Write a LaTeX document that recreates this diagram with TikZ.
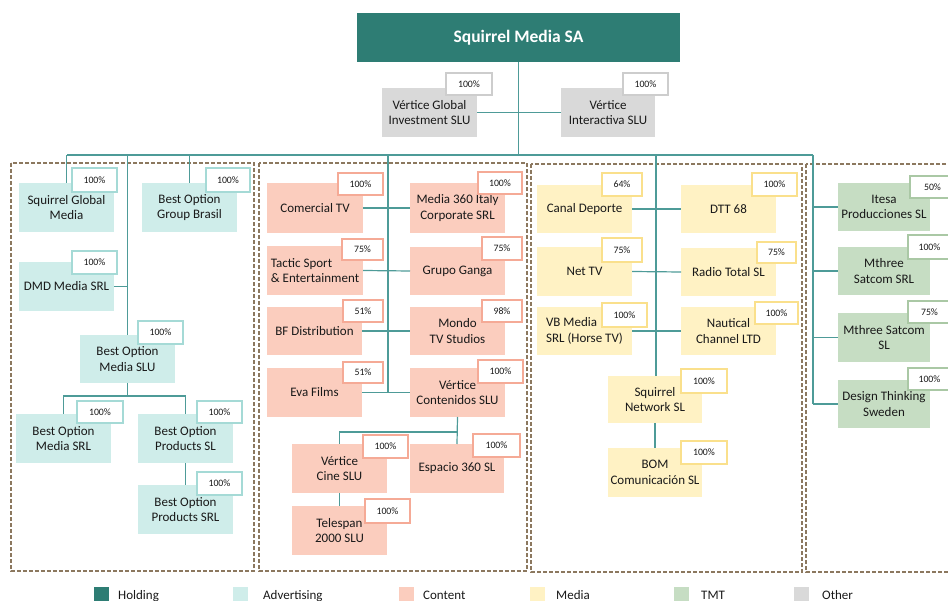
\documentclass[tikz,border=0pt]{standalone}
\usepackage{fontspec}
\setmainfont{Carlito}
\usetikzlibrary{calc}
\definecolor{holdF}{RGB}{46,125,116}
\definecolor{advF}{RGB}{207,237,234}
\definecolor{advB}{RGB}{165,218,214}
\definecolor{conF}{RGB}{251,205,190}
\definecolor{conB}{RGB}{245,170,150}
\definecolor{medF}{RGB}{255,242,196}
\definecolor{medB}{RGB}{250,224,140}
\definecolor{tmtF}{RGB}{198,221,195}
\definecolor{tmtB}{RGB}{170,200,165}
\definecolor{othF}{RGB}{217,217,217}
\definecolor{othB}{RGB}{205,205,205}
\definecolor{lineC}{RGB}{78,155,152}
\definecolor{grpC}{RGB}{140,120,95}
\definecolor{txtC}{RGB}{25,25,25}
\newcommand\orgbox[7]{\node[#2, minimum width={#5-#3}, minimum height={#6-#4}] (#1) at ({(#3+#5)/2},{(#4+#6)/2}) {#7};}
\newcommand\pctbox[7]{\node[pct, draw=#2, minimum width={#5-#3}, minimum height={#6-#4}] (#1) at ({(#3+#5)/2},{(#4+#6)/2}) {#7};}
\tikzset{
  every node/.style={text=txtC},
  base/.style={inner sep=1pt, outer sep=0pt, align=center, font=\fontsize{13}{15.6}\selectfont},
  hold/.style={base, fill=holdF, text=white, font=\bfseries\fontsize{17.5}{20}\selectfont},
  adv/.style={base, fill=advF},
  cont/.style={base, fill=conF},
  med/.style={base, fill=medF},
  tmt/.style={base, fill=tmtF},
  oth/.style={base, fill=othF},
  pct/.style={fill=white, line width=1.6pt, inner sep=0pt, outer sep=0pt, font=\fontsize{9.8}{11}\selectfont},
  conn/.style={draw=lineC, line width=1.2pt},
  grp/.style={draw=grpC, line width=1.8pt, dash pattern=on 4pt off 2pt},
  legsq/.style={minimum width=15, minimum height=16, inner sep=0pt},
  legtx/.style={anchor=base west, inner sep=0pt, font=\fontsize{13}{15}\selectfont}
}
\begin{document}
\begin{tikzpicture}[x=1pt,y=-1pt]
\useasboundingbox (0,0) rectangle (948,601);
% group frames
\draw[grp] (11,163) rectangle (254,571);
\draw[grp] (259,163) rectangle (527,571);
\draw[grp] (531,164) rectangle (802,572);
\draw[grp] (806,164) rectangle (960,572);
% top
\orgbox{sma}{hold}{357}{13}{680}{62}{Squirrel Media SA}
\orgbox{vgi}{oth}{382}{88}{477}{137}{Vértice Global\\Investment SLU}
\pctbox{pvgi}{othB}{446}{73}{492}{95}{100\%}
\orgbox{vin}{oth}{561}{88}{655}{137}{Vértice\\Interactiva SLU}
\pctbox{pvin}{othB}{623}{73}{668}{95}{100\%}
% advertising
\orgbox{sgm}{adv}{19}{183}{114}{232}{Squirrel Global\\Media}
\pctbox{psgm}{advB}{72}{168}{117}{192}{100\%}
\orgbox{bogb}{adv}{142}{183}{237}{232}{Best Option\\Group Brasil}
\pctbox{pbogb}{advB}{206}{168}{250}{192}{100\%}
\orgbox{dmd}{adv}{19}{262}{114}{311}{DMD Media SRL}
\pctbox{pdmd}{advB}{72}{251}{117}{274}{100\%}
\orgbox{bomslu}{adv}{80}{335}{175}{383}{Best Option\\Media SLU}
\pctbox{pbomslu}{advB}{138}{321}{183}{344}{100\%}
\orgbox{bomsrl}{adv}{16}{414}{111}{463}{Best Option\\Media SRL}
\pctbox{pbomsrl}{advB}{77}{401}{123}{423}{100\%}
\orgbox{bops}{adv}{138}{414}{233}{463}{Best Option\\Products SL}
\pctbox{pbops}{advB}{197}{401}{242}{423}{100\%}
\orgbox{bopsrl}{adv}{138}{485}{233}{534}{Best Option\\Products SRL}
\pctbox{pbopsrl}{advB}{197}{472}{242}{495}{100\%}
% content
\orgbox{ctv}{cont}{267}{183}{363}{233}{Comercial TV}
\pctbox{pctv}{conB}{338}{173}{383}{195}{100\%}
\orgbox{m360}{cont}{410}{183}{505}{233}{Media 360 Italy\\Corporate SRL}
\pctbox{pm360}{conB}{478}{172}{522}{194}{100\%}
\orgbox{tactic}{cont,align=left}{267}{246}{363}{295}{Tactic Sport\\\& Entertainment}
\pctbox{ptactic}{conB}{342}{239}{383}{260}{75\%}
\orgbox{ganga}{cont}{410}{247}{505}{295}{Grupo Ganga}
\pctbox{pganga}{conB}{482}{237}{522}{260}{75\%}
\orgbox{bfd}{cont}{267}{307}{362}{355}{BF Distribution}
\pctbox{pbfd}{conB}{343}{300}{383}{322}{51\%}
\orgbox{mondo}{cont}{410}{307}{505}{355}{Mondo\\TV Studios}
\pctbox{pmondo}{conB}{482}{300}{522}{322}{98\%}
\orgbox{eva}{cont}{267}{368}{362}{417}{Eva Films}
\pctbox{peva}{conB}{343}{362}{383}{383}{51\%}
\orgbox{vcont}{cont}{410}{368}{505}{417}{Vértice\\Contenidos SLU}
\pctbox{pvcont}{conB}{478}{360}{523}{383}{100\%}
\orgbox{vcine}{cont}{292}{444}{387}{493}{Vértice\\Cine SLU}
\pctbox{pvcine}{conB}{363}{435}{408}{458}{100\%}
\orgbox{esp}{cont}{410}{444}{504}{493}{Espacio 360 SL}
\pctbox{pesp}{conB}{473}{434}{520}{457}{100\%}
\orgbox{tele}{cont}{292}{506}{387}{555}{Telespan\\2000 SLU}
\pctbox{ptele}{conB}{365}{499}{410}{523}{100\%}
% media
\orgbox{cdep}{med}{537}{185}{632}{233}{Canal Deporte}
\pctbox{pcdep}{medB}{602}{173}{642}{196}{64\%}
\orgbox{dtt}{med}{681}{185}{776}{233}{DTT 68}
\pctbox{pdtt}{medB}{752}{173}{797}{196}{100\%}
\orgbox{nettv}{med}{537}{247}{632}{296}{Net TV}
\pctbox{pnettv}{medB}{602}{238}{642}{262}{75\%}
\orgbox{radio}{med}{681}{248}{776}{296}{Radio Total SL}
\pctbox{pradio}{medB}{757}{242}{796}{263}{75\%}
\orgbox{vbm}{med,align=left}{537}{307}{632}{355}{VB Media\\SRL (Horse TV)}
\pctbox{pvbm}{medB}{602}{303}{647}{327}{100\%}
\orgbox{naut}{med}{681}{307}{776}{355}{Nautical\\Channel LTD}
\pctbox{pnaut}{medB}{755}{302}{798}{324}{100\%}
\orgbox{snet}{med}{608}{376}{702}{423}{Squirrel\\Network SL}
\pctbox{psnet}{medB}{681}{369}{727}{393}{100\%}
\orgbox{bom}{med}{608}{448}{702}{497}{BOM\\Comunicación SL}
\pctbox{pbom}{medB}{681}{441}{727}{464}{100\%}
% TMT
\orgbox{itesa}{tmt}{838}{183}{930}{231}{Itesa\\Producciones SL}
\pctbox{pitesa}{tmtB}{910}{176}{955}{198}{50\%}
\orgbox{mss}{tmt}{838}{247}{930}{295}{Mthree\\Satcom SRL}
\pctbox{pmss}{tmtB}{908}{235}{951}{259}{100\%}
\orgbox{msl}{tmt}{838}{313}{930}{362}{Mthree Satcom\\SL}
\pctbox{pmsl}{tmtB}{908}{301}{951}{323}{75\%}
\orgbox{dts}{tmt}{838}{380}{930}{428}{Design Thinking\\Sweden}
\pctbox{pdts}{tmtB}{908}{368}{951}{390}{100\%}
% connectors
\coordinate (busL) at (67,155);
\coordinate (busR) at (813,155);
\coordinate (cv) at (388,155);
\coordinate (mv) at (656,155);
\draw[conn] (busL) -- (busR);
\draw[conn] (sma.south) -- (sma.south |- busL);
\draw[conn] (vgi.east) -- (vin.west);
\draw[conn] (sgm.north) -- (sgm.north |- busL);
\draw[conn] (bogb.north) -- (bogb.north |- busL);
\draw[conn] (bomslu.north) -- (bomslu.north |- busL);
\draw[conn] (dmd.east) -- (dmd.east -| bomslu.north);
\draw[conn] (bomsrl.north) -- ++(0,-18) coordinate (j1) -| (bops.north);
\draw[conn] (bomslu.south) -- (bomslu.south |- j1);
\draw[conn] (bops.south) -- (bopsrl.north);
\draw[conn] (cv) -- (cv |- eva.east);
\draw[conn] (ctv.east) -- (m360.west);
\draw[conn] (tactic.east) -- (ganga.west);
\draw[conn] (bfd.east) -- (mondo.west);
\draw[conn] (eva.east) -- (vcont.west);
\draw[conn] (vcont.south) -- (esp.north);
\draw[conn] (vcine.north) -- ++(0,-12) -| (vcont.south);
\draw[conn] (vcine.south) -- (tele.north);
\draw[conn] (mv) -- (mv |- snet.north);
\draw[conn] (cdep.east) -- (dtt.west);
\draw[conn] (nettv.east) -- (radio.west);
\draw[conn] (vbm.east) -- (naut.west);
\draw[conn] (snet.south) -- (bom.north);
\draw[conn] (busR) -- (busR |- dts.west);
\draw[conn] (busR |- itesa.west) -- (itesa.west);
\draw[conn] (busR |- mss.west) -- (mss.west);
\draw[conn] (busR |- msl.west) -- (msl.west);
\draw[conn] (busR |- dts.west) -- (dts.west);
% legend
\node[legsq, fill=holdF] (lq1) at (101.5,595) {};
\node[legtx] (lt1) at (118,599) {Holding};
\node[legsq, fill=advF] (lq2) at (240.5,595) {};
\node[legtx] (lt2) at (263,599) {Advertising};
\node[legsq, fill=conF] (lq3) at (406,595) {};
\node[legtx] (lt3) at (423,599) {Content};
\node[legsq, fill=medF] (lq4) at (537.5,595) {};
\node[legtx] (lt4) at (556,599) {Media};
\node[legsq, fill=tmtF] (lq5) at (681.5,595) {};
\node[legtx] (lt5) at (701,599) {TMT};
\node[legsq, fill=othF] (lq6) at (801,595) {};
\node[legtx] (lt6) at (822,599) {Other};
\end{tikzpicture}
\end{document}
